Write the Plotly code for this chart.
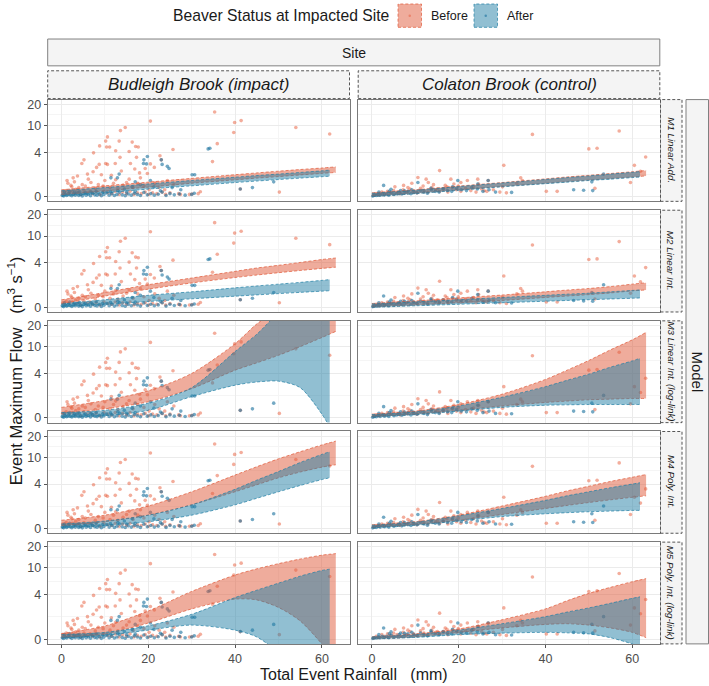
import numpy as np
import plotly.graph_objects as go

W, H = 709, 686

# ---------------- labels / ticks ----------------
SITES = ["Budleigh Brook (impact)", "Colaton Brook (control)"]
MODELS = ["M1 Linear Add.", "M2 Linear Int.", "M3 Linear Int. (log-link)",
          "M4 Poly. Int.", "M5 Poly. Int. (log-link)"]
STATUS = ["Before", "After"]
X_TICKS = [0, 20, 40, 60]
X_MINOR = [10, 30, 50]
Y_TICK_VALUES = [0, 4, 10, 20]
Y_TICK_LABELS = ["0", "4", "10", "20"]
Y_LIMITS = [0, 20]
X_LIMITS = [0, 63.2]

# ---------------- observed events ----------------
BUD_BEFORE_X = [35.3, 20.5, 39.9, 41.4, 39.7, 54.0, 61.8, 35.9, 34.8, 25.7,
                14.7, 13.6, 10.6, 10.2, 8.8, 7.4, 5.2, 4.7, 13.3, 12.5,
                10.4, 11.1, 16.3, 17.1, 17.7, 15.6, 17.3, 15.9, 13.5, 12.4,
                10.2, 10.6, 8.7, 8.1, 7.3, 6.0, 3.7, 2.7, 1.3, 22.7,
                23.0, 20.5, 21.4, 19.3, 19.8, 18.0, 16.9, 13.8, 11.5, 9.2,
                10.0, 6.8, 4.8, 2.4, 3.3, 12.5, 15.6, 18.2, 24.4, 25.9,
                27.4, 30.1, 32.0, 50.2, 41.2,
                1.5, 2.2, 3.0, 4.0, 5.5, 6.2, 7.8, 8.5, 9.6, 11.2,
                12.0, 13.0, 14.2, 15.0, 16.5, 17.6, 19.0, 20.2, 21.5, 22.5, 23.8,
                0.3, 0.7, 1.1, 1.8, 2.5, 3.2, 3.9, 4.5, 5.2, 5.9,
                6.6, 7.2, 8.0, 8.9, 9.8, 10.7, 11.6, 12.4, 13.3, 14.1,
                15.0, 15.8, 16.7, 17.5, 18.4, 19.3, 20.1, 21.0, 22.0, 23.2,
                24.0, 25.0, 27.0, 29.5, 31.5]
BUD_BEFORE_Y = [15.5, 11.5, 11.0, 11.7, 7.9, 9.3, 7.5, 5.4, 2.8, 4.4,
                9.3, 8.4, 6.8, 5.9, 5.0, 3.9, 3.0, 2.6, 5.9, 4.2,
                4.8, 4.8, 5.7, 4.9, 4.8, 4.1, 3.3, 2.6, 3.3, 2.6,
                2.6, 2.5, 2.5, 2.2, 1.8, 1.6, 1.45, 1.3, 1.1, 3.5,
                3.0, 2.55, 2.2, 2.1, 1.65, 1.7, 2.05, 1.87, 1.5, 1.55,
                1.1, 0.95, 0.8, 0.65, 0.48, 1.15, 1.2, 1.3, 1.1, 0.8,
                0.15, 0.18, 0.32, 0.3, 0.5,
                0.9, 0.75, 1.0, 0.6, 0.7, 1.2, 0.55, 0.8, 0.7, 0.6,
                0.9, 0.55, 0.75, 0.95, 0.6, 0.9, 0.7, 0.45, 0.9, 0.6, 0.45,
                0.3, 0.2, 0.4, 0.25, 0.35, 0.2, 0.3, 0.15, 0.4, 0.25,
                0.35, 0.2, 0.3, 0.15, 0.35, 0.25, 0.2, 0.35, 0.15, 0.3,
                0.2, 0.35, 0.15, 0.25, 0.2, 0.3, 0.15, 0.25, 0.2, 0.3,
                0.15, 0.25, 0.2, 0.15, 0.2]

BUD_AFTER_X = [33.8, 34.2, 19.8, 19.0, 18.9, 19.6, 23.0, 23.2, 24.4, 24.8,
               13.3, 12.9, 11.4, 30.1, 30.7, 41.2, 48.9, 30.6, 16.3, 18.2,
               21.3, 22.8, 17.0, 20.5, 14.5, 25.5, 27.5, 44.0,
               0.2, 0.5, 0.9, 1.2, 1.6, 2.0, 2.4, 2.8, 3.2, 3.6,
               4.0, 4.4, 4.8, 5.2, 5.7, 6.2, 6.7, 7.2, 7.7, 8.2,
               8.7, 9.2, 9.8, 10.4, 11.0, 11.6, 12.2, 12.8, 13.4, 14.0,
               14.7, 15.4, 16.1, 16.8, 17.5, 18.2, 19.0, 19.8, 20.6, 21.4,
               22.3, 23.2, 24.1, 25.0, 26.0, 27.2, 28.5, 30.0,
               0.7, 1.9, 3.0, 4.2, 5.5, 6.8, 8.0, 9.5, 11.3, 13.0, 15.0, 17.0]
BUD_AFTER_Y = [4.5, 4.6, 3.4, 3.0, 2.6, 2.55, 3.0, 2.5, 2.3, 2.1,
               1.6, 1.3, 1.3, 1.55, 1.55, 0.5, 1.0, 0.22, 0.65, 0.8,
               0.65, 0.39, 1.0, 1.1, 0.5, 0.6, 0.45, 0.6,
               0.1, 0.05, 0.15, 0.08, 0.2, 0.12, 0.06, 0.18, 0.1, 0.25,
               0.08, 0.14, 0.05, 0.2, 0.1, 0.16, 0.07, 0.22, 0.12, 0.09,
               0.18, 0.06, 0.14, 0.25, 0.1, 0.2, 0.08, 0.15, 0.3, 0.12,
               0.07, 0.18, 0.1, 0.22, 0.15, 0.08, 0.28, 0.12, 0.2, 0.1,
               0.16, 0.3, 0.08, 0.2, 0.12, 0.18, 0.1, 0.15,
               0.3, 0.35, 0.28, 0.32, 0.26, 0.3, 0.36, 0.27, 0.33, 0.4, 0.3, 0.35]

COL_BEFORE_X = [37.0, 57.0, 50.0, 51.9, 63.1, 60.5, 30.4, 15.6, 34.3, 34.7,
                33.4, 30.1, 24.4, 24.6, 26.8, 40.2, 42.7, 51.4, 59.6, 61.9,
                10.6, 12.5, 13.0, 9.2, 7.3, 5.3, 18.2, 18.9, 20.5, 22.0,
                17.3, 15.1, 25.9,
                0.4, 1.0, 1.7, 2.3, 3.0, 3.6, 4.3, 5.0, 5.8, 6.5,
                7.2, 8.0, 8.8, 9.6, 10.4, 11.2, 12.0, 12.9, 13.8, 14.7,
                15.6, 16.5, 17.5, 18.5, 19.5, 20.5, 21.6, 22.8, 24.0, 25.3,
                26.5, 28.0, 29.5, 31.0, 8.3, 11.8, 14.2, 16.9, 19.9, 23.4]
COL_BEFORE_Y = [7.4, 8.3, 4.5, 4.6, 3.35, 2.4, 2.4, 1.9, 1.3, 1.1,
                0.9, 0.65, 1.2, 0.85, 1.1, 0.35, 0.35, 0.55, 0.95, 1.85,
                1.33, 1.2, 0.95, 0.9, 0.75, 0.65, 1.2, 0.85, 0.95, 1.1,
                0.65, 0.5, 0.39,
                0.1, 0.2, 0.15, 0.3, 0.2, 0.35, 0.25, 0.4, 0.3, 0.2,
                0.45, 0.3, 0.5, 0.35, 0.25, 0.55, 0.4, 0.3, 0.6, 0.45,
                0.35, 0.5, 0.3, 0.6, 0.45, 0.35, 0.55, 0.4, 0.3, 0.5,
                0.35, 0.45, 0.3, 0.25, 0.6, 0.7, 0.8, 0.75, 0.7, 0.65]

COL_AFTER_X = [2.7, 53.4, 48.8, 50.7, 50.9, 46.5, 19.8, 18.6, 24.4, 26.8,
               32.2, 10.6, 13.6, 7.5, 4.4,
               0.2, 0.6, 1.0, 1.4, 1.9, 2.4, 2.9, 3.4, 3.9, 4.5,
               5.1, 5.7, 6.3, 6.9, 7.6, 8.3, 9.0, 9.7, 10.4, 11.2,
               12.0, 12.8, 13.7, 14.6, 15.5, 16.4, 17.4, 18.4, 19.5, 20.6,
               21.8, 23.0, 24.3, 25.6, 27.0, 28.5, 1.6, 4.0, 6.6, 9.2]
COL_AFTER_Y = [0.75, 1.6, 0.42, 1.0, 0.4, 0.45, 1.1, 0.65, 0.85, 1.1,
               0.28, 0.95, 0.55, 0.39, 0.48,
               0.05, 0.1, 0.08, 0.15, 0.1, 0.2, 0.12, 0.18, 0.1, 0.25,
               0.15, 0.2, 0.3, 0.18, 0.25, 0.35, 0.2, 0.3, 0.25, 0.4,
               0.3, 0.22, 0.45, 0.35, 0.3, 0.5, 0.4, 0.35, 0.55, 0.45,
               0.4, 0.6, 0.5, 0.35, 0.45, 0.3, 0.3, 0.35, 0.4, 0.45]

# ---------------- model ribbons (95% intervals) ----------------
RIB_X_BEFORE = [0, 10, 20, 30, 40, 45, 50, 55, 60, 63.2]
RIB_X_AFTER = [0, 10, 20, 30, 40, 45, 50, 55, 60, 61.8]

M1_BUD_B_LO = [0.13, 0.38, 0.63, 0.9, 1.15, 1.28, 1.4, 1.53, 1.66, 1.74]
M1_BUD_B_HI = [0.45, 0.72, 0.98, 1.26, 1.55, 1.7, 1.85, 2.0, 2.14, 2.25]
M1_BUD_A_LO = [0.03, 0.25, 0.5, 0.72, 0.95, 1.06, 1.17, 1.28, 1.39, 1.43]
M1_BUD_A_HI = [0.39, 0.6, 0.85, 1.1, 1.35, 1.48, 1.6, 1.74, 1.88, 1.95]
M1_COL_B_LO = [0.02, 0.22, 0.45, 0.68, 0.9, 1.02, 1.13, 1.25, 1.37, 1.45]
M1_COL_B_HI = [0.25, 0.45, 0.7, 0.95, 1.22, 1.37, 1.5, 1.65, 1.8, 1.92]
M1_COL_A_LO = [0.0, 0.2, 0.42, 0.65, 0.87, 0.98, 1.1, 1.2, 1.32, 1.36]
M1_COL_A_HI = [0.22, 0.42, 0.67, 0.92, 1.18, 1.32, 1.45, 1.6, 1.75, 1.82]

M2_BUD_B_LO = [0.23, 0.75, 1.25, 1.75, 2.25, 2.5, 2.75, 3.0, 3.25, 3.4]
M2_BUD_B_HI = [0.49, 1.0, 1.6, 2.2, 2.9, 3.3, 3.65, 4.05, 4.5, 4.75]
M2_BUD_A_LO = [0.03, 0.2, 0.38, 0.56, 0.74, 0.83, 0.92, 1.01, 1.1, 1.13]
M2_BUD_A_HI = [0.22, 0.5, 0.8, 1.05, 1.35, 1.5, 1.65, 1.8, 1.98, 2.05]
M2_COL_B_LO = [0.02, 0.15, 0.3, 0.45, 0.65, 0.75, 0.85, 0.97, 1.12, 1.19]
M2_COL_B_HI = [0.25, 0.42, 0.62, 0.82, 1.05, 1.18, 1.3, 1.45, 1.65, 1.77]
M2_COL_A_LO = [0.0, 0.1, 0.2, 0.3, 0.4, 0.45, 0.5, 0.55, 0.6, 0.62]
M2_COL_A_HI = [0.22, 0.36, 0.5, 0.65, 0.8, 0.88, 0.95, 1.05, 1.15, 1.19]

M3_BUD_B_LO = [0.3, 0.6, 1.1, 2.2, 4.5, 5.8, 7.5, 10.0, 13.5, 16.5]
M3_BUD_B_HI = [0.7, 1.2, 2.0, 4.0, 11.0, 21.0, 34.0, 52.0, 75.0, 90.0]
M3_BUD_A_LO = [0.05, 0.15, 0.5, 1.5, 2.55, 2.9, 3.0, 2.3, 0.25, -0.6]
M3_BUD_A_HI = [0.35, 0.5, 1.0, 2.3, 8.5, 15.0, 30.0, 48.0, 65.0, 75.0]
M3_COL_B_LO = [0.1, 0.25, 0.5, 0.8, 1.05, 1.15, 1.25, 1.3, 1.35, 1.35]
M3_COL_B_HI = [0.25, 0.45, 0.9, 1.7, 3.2, 4.5, 6.3, 9.0, 12.5, 16.0]
M3_COL_A_LO = [0.08, 0.22, 0.45, 0.7, 0.85, 0.88, 0.9, 0.9, 0.9, 0.9]
M3_COL_A_HI = [0.22, 0.4, 0.8, 1.45, 2.4, 3.1, 3.9, 5.0, 6.2, 6.8]

M4_BUD_B_LO = [0.2, 0.45, 0.9, 1.7, 3.0, 3.9, 5.0, 6.1, 7.2, 7.8]
M4_BUD_B_HI = [0.55, 0.9, 1.6, 3.0, 5.5, 7.3, 9.5, 12.0, 15.0, 17.0]
M4_BUD_A_LO = [0.05, 0.2, 0.45, 0.9, 1.7, 2.3, 3.0, 3.8, 4.7, 5.0]
M4_BUD_A_HI = [0.3, 0.5, 0.9, 1.7, 3.3, 4.6, 6.2, 8.4, 11.0, 12.0]
M4_COL_B_LO = [0.08, 0.25, 0.55, 0.95, 1.4, 1.65, 1.9, 2.15, 2.4, 2.55]
M4_COL_B_HI = [0.25, 0.45, 0.9, 1.6, 2.5, 3.1, 3.7, 4.4, 5.1, 5.6]
M4_COL_A_LO = [0.05, 0.22, 0.5, 0.8, 1.0, 1.08, 1.15, 1.2, 1.25, 1.25]
M4_COL_A_HI = [0.22, 0.42, 0.85, 1.4, 2.1, 2.55, 3.0, 3.5, 4.0, 4.2]

M5_BUD_B_LO = [0.12, 0.35, 1.1, 2.3, 3.4, 3.3, 2.45, 1.26, -0.3, -1.5]
M5_BUD_B_HI = [0.37, 0.89, 2.1, 4.5, 7.9, 9.7, 11.5, 13.4, 15.2, 16.0]
M5_BUD_A_LO = [0.08, 0.25, 0.6, 0.95, 0.6, 0.15, -0.9, -3.0, -7.0, -9.0]
M5_BUD_A_HI = [0.3, 0.45, 0.9, 1.8, 3.6, 4.7, 6.0, 7.6, 9.2, 9.6]
M5_COL_B_LO = [0.03, 0.15, 0.45, 0.75, 1.0, 1.05, 0.95, 0.75, 0.45, 0.1]
M5_COL_B_HI = [0.15, 0.35, 0.68, 1.35, 2.3, 3.2, 4.2, 5.2, 6.3, 7.0]
M5_COL_A_LO = [0.02, 0.12, 0.3, 0.4, 0.45, 0.42, 0.35, 0.1, -0.3, -0.5]
M5_COL_A_HI = [0.15, 0.3, 0.6, 1.05, 1.6, 2.0, 2.4, 2.9, 3.5, 3.7]

RIBBONS = {
    (0, 0): (M1_BUD_B_LO, M1_BUD_B_HI, M1_BUD_A_LO, M1_BUD_A_HI),
    (0, 1): (M1_COL_B_LO, M1_COL_B_HI, M1_COL_A_LO, M1_COL_A_HI),
    (1, 0): (M2_BUD_B_LO, M2_BUD_B_HI, M2_BUD_A_LO, M2_BUD_A_HI),
    (1, 1): (M2_COL_B_LO, M2_COL_B_HI, M2_COL_A_LO, M2_COL_A_HI),
    (2, 0): (M3_BUD_B_LO, M3_BUD_B_HI, M3_BUD_A_LO, M3_BUD_A_HI),
    (2, 1): (M3_COL_B_LO, M3_COL_B_HI, M3_COL_A_LO, M3_COL_A_HI),
    (3, 0): (M4_BUD_B_LO, M4_BUD_B_HI, M4_BUD_A_LO, M4_BUD_A_HI),
    (3, 1): (M4_COL_B_LO, M4_COL_B_HI, M4_COL_A_LO, M4_COL_A_HI),
    (4, 0): (M5_BUD_B_LO, M5_BUD_B_HI, M5_BUD_A_LO, M5_BUD_A_HI),
    (4, 1): (M5_COL_B_LO, M5_COL_B_HI, M5_COL_A_LO, M5_COL_A_HI),
}
POINTS = {
    0: ((BUD_BEFORE_X, BUD_BEFORE_Y), (BUD_AFTER_X, BUD_AFTER_Y)),
    1: ((COL_BEFORE_X, COL_BEFORE_Y), (COL_AFTER_X, COL_AFTER_Y)),
}

# ---------------- styling ----------------
C_BEFORE = (224, 90, 58)
C_AFTER = (35, 128, 166)
PT_BEFORE = "rgba(232,92,58,0.5)"
PT_AFTER = "rgba(24,112,156,0.6)"
FONT = "Liberation Sans, Arial, Helvetica, sans-serif"


def rgba(c, a):
    return "rgba(%d,%d,%d,%s)" % (c[0], c[1], c[2], a)


def pseudo_log(v):
    return np.arcsinh(np.asarray(v, dtype=float) / 2.0)


def fx(px):
    return px / W


def fy(py):
    return 1 - py / H


def text(t, x, y, size, angle=0, italic=False, xanchor="center", color="#1A1A1A"):
    f = dict(size=size, color=color, family=FONT)
    if italic:
        f["style"] = "italic"
    return dict(text=t, x=fx(x), y=fy(y), xref="paper", yref="paper", showarrow=False,
                textangle=angle, xanchor=xanchor, yanchor="middle", font=f)


COL_X = [(47.7, 349.5), (358.2, 659.8)]
ROW_TOP0, ROW_STEP, ROW_H = 98.3, 111.45, 102.5

yt = pseudo_log(Y_TICK_VALUES)
y_minor = [(yt[i] + yt[i + 1]) / 2 for i in range(len(yt) - 1)]
yl = pseudo_log(Y_LIMITS)
y_range = [yl[0] - 0.05 * (yl[1] - yl[0]), yl[1] + 0.05 * (yl[1] - yl[0])]
x_span = X_LIMITS[1] - X_LIMITS[0]
x_range = [X_LIMITS[0] - 0.05 * x_span, X_LIMITS[1] + 0.05 * x_span]

fig = go.Figure()
layout = dict(width=W, height=H, margin=dict(l=0, r=0, t=0, b=0), autosize=False,
              paper_bgcolor="white", plot_bgcolor="white", showlegend=False,
              font=dict(family=FONT, color="#1A1A1A"))
shapes, annotations = [], []

for r in range(5):
    for c in range(2):
        k = r * 2 + c + 1
        xa = "x" if k == 1 else "x%d" % k
        ya = "y" if k == 1 else "y%d" % k
        top = ROW_TOP0 + ROW_STEP * r
        bot = top + ROW_H
        outer_x = (r == 4)
        outer_y = (c == 0)
        layout["xaxis" if k == 1 else "xaxis%d" % k] = dict(
            domain=[fx(COL_X[c][0]), fx(COL_X[c][1])], anchor=ya,
            range=x_range, tickvals=X_TICKS, ticktext=[str(v) for v in X_TICKS],
            showticklabels=outer_x, ticks="outside" if outer_x else "",
            ticklen=3, tickcolor="#555555", tickwidth=1,
            tickfont=dict(size=12.5, color="#4D4D4D"),
            showgrid=True, gridcolor="#EBEBEB", gridwidth=1,
            minor=dict(tickvals=X_MINOR, showgrid=True, gridcolor="#F5F5F5", gridwidth=0.6, ticks=""),
            zeroline=False, showline=True, mirror=True, linecolor="#7A7A7A", linewidth=1)
        layout["yaxis" if k == 1 else "yaxis%d" % k] = dict(
            domain=[fy(bot), fy(top)], anchor=xa,
            range=y_range, tickvals=list(yt), ticktext=Y_TICK_LABELS,
            showticklabels=outer_y, ticks="outside" if outer_y else "",
            ticklen=3, tickcolor="#555555", tickwidth=1,
            tickfont=dict(size=12.5, color="#4D4D4D"),
            showgrid=True, gridcolor="#EBEBEB", gridwidth=1,
            minor=dict(tickvals=y_minor, showgrid=True, gridcolor="#F5F5F5", gridwidth=0.6, ticks=""),
            zeroline=False, showline=True, mirror=True, linecolor="#7A7A7A", linewidth=1)

        # points
        (bx, by), (ax_, ay) = POINTS[c]
        fig.add_trace(go.Scatter(x=bx, y=pseudo_log(by), mode="markers", xaxis=xa, yaxis=ya,
                                 marker=dict(size=3.6, color=PT_BEFORE, line=dict(width=0)),
                                 hoverinfo="skip"))
        fig.add_trace(go.Scatter(x=ax_, y=pseudo_log(ay), mode="markers", xaxis=xa, yaxis=ya,
                                 marker=dict(size=3.6, color=PT_AFTER, line=dict(width=0)),
                                 hoverinfo="skip"))
        # ribbons
        b_lo, b_hi, a_lo, a_hi = RIBBONS[(r, c)]
        for xs, lo, hi, col in ((RIB_X_BEFORE, b_lo, b_hi, C_BEFORE),
                                (RIB_X_AFTER, a_lo, a_hi, C_AFTER)):
            line = dict(color=rgba(col, 0.9), width=0.8, dash="3px,2px", shape="spline", smoothing=0.8)
            fig.add_trace(go.Scatter(x=xs, y=pseudo_log(lo), mode="lines", xaxis=xa, yaxis=ya,
                                     line=line, hoverinfo="skip"))
            fig.add_trace(go.Scatter(x=xs, y=pseudo_log(hi), mode="lines", xaxis=xa, yaxis=ya,
                                     line=line, fill="tonexty", fillcolor=rgba(col, 0.5),
                                     hoverinfo="skip"))

        # row strip (right column only)
        if c == 1:
            shapes.append(dict(type="rect", xref="paper", yref="paper",
                               x0=fx(660.5), x1=fx(682), y0=fy(bot), y1=fy(top),
                               fillcolor="#F4F4F4", line=dict(color="#555555", width=1, dash="3px,2px")))
            annotations.append(text(MODELS[r], 671.3, (top + bot) / 2, 9.8, angle=90, italic=True))

# column strips
for c in range(2):
    shapes.append(dict(type="rect", xref="paper", yref="paper",
                       x0=fx(COL_X[c][0]), x1=fx(COL_X[c][1]), y0=fy(97.3), y1=fy(69.3),
                       fillcolor="#F4F4F4", line=dict(color="#555555", width=1, dash="3px,2px")))
    annotations.append(text(SITES[c], (COL_X[c][0] + COL_X[c][1]) / 2, 83.3, 17, italic=True))

# Site strip
shapes.append(dict(type="rect", xref="paper", yref="paper",
                   x0=fx(COL_X[0][0]), x1=fx(COL_X[1][1]), y0=fy(64.3), y1=fy(37.3),
                   fillcolor="#F4F4F4", line=dict(color="#808080", width=1)))
annotations.append(text("Site", (COL_X[0][0] + COL_X[1][1]) / 2, 51, 14))

# Model strip
model_top = ROW_TOP0
model_bot = ROW_TOP0 + ROW_STEP * 4 + ROW_H
shapes.append(dict(type="rect", xref="paper", yref="paper",
                   x0=fx(686), x1=fx(708.5), y0=fy(model_bot), y1=fy(model_top),
                   fillcolor="#F4F4F4", line=dict(color="#808080", width=1)))
annotations.append(text("Model", 697.3, (model_top + model_bot) / 2, 15, angle=90))

# legend
annotations.append(text("Beaver Status at Impacted Site", 392, 14, 15.7, xanchor="right"))
for lab, col, pt, x0 in ((STATUS[0], C_BEFORE, PT_BEFORE, 398),
                         (STATUS[1], C_AFTER, PT_AFTER, 474)):
    shapes.append(dict(type="rect", xref="paper", yref="paper",
                       x0=fx(x0), x1=fx(x0 + 23.5), y0=fy(25.5), y1=fy(2),
                       fillcolor=rgba(col, 0.5), line=dict(color=rgba(col, 0.9), width=0.8, dash="3px,2px")))
    shapes.append(dict(type="circle", xref="paper", yref="paper",
                       x0=fx(x0 + 10.5), x1=fx(x0 + 13), y0=fy(15), y1=fy(12.5),
                       fillcolor=pt, line=dict(width=0)))
    annotations.append(text(lab, x0 + 31, 14, 12.5, xanchor="left"))

# axis titles
annotations.append(text("Event Maximum Flow\u00a0\u00a0\u00a0(m<sup>3</sup> s<sup>\u22121</sup>)",
                        15, 372, 16.5, angle=-90))
annotations.append(text("Total Event Rainfall\u00a0\u00a0\u00a0(mm)", 353.6, 677.5, 16))

layout["shapes"] = shapes
layout["annotations"] = annotations
fig.update_layout(**layout)
fig.write_html("out.html", config={"displayModeBar": False},
               post_script="document.body.style.margin='0';document.body.style.overflow='hidden';")
